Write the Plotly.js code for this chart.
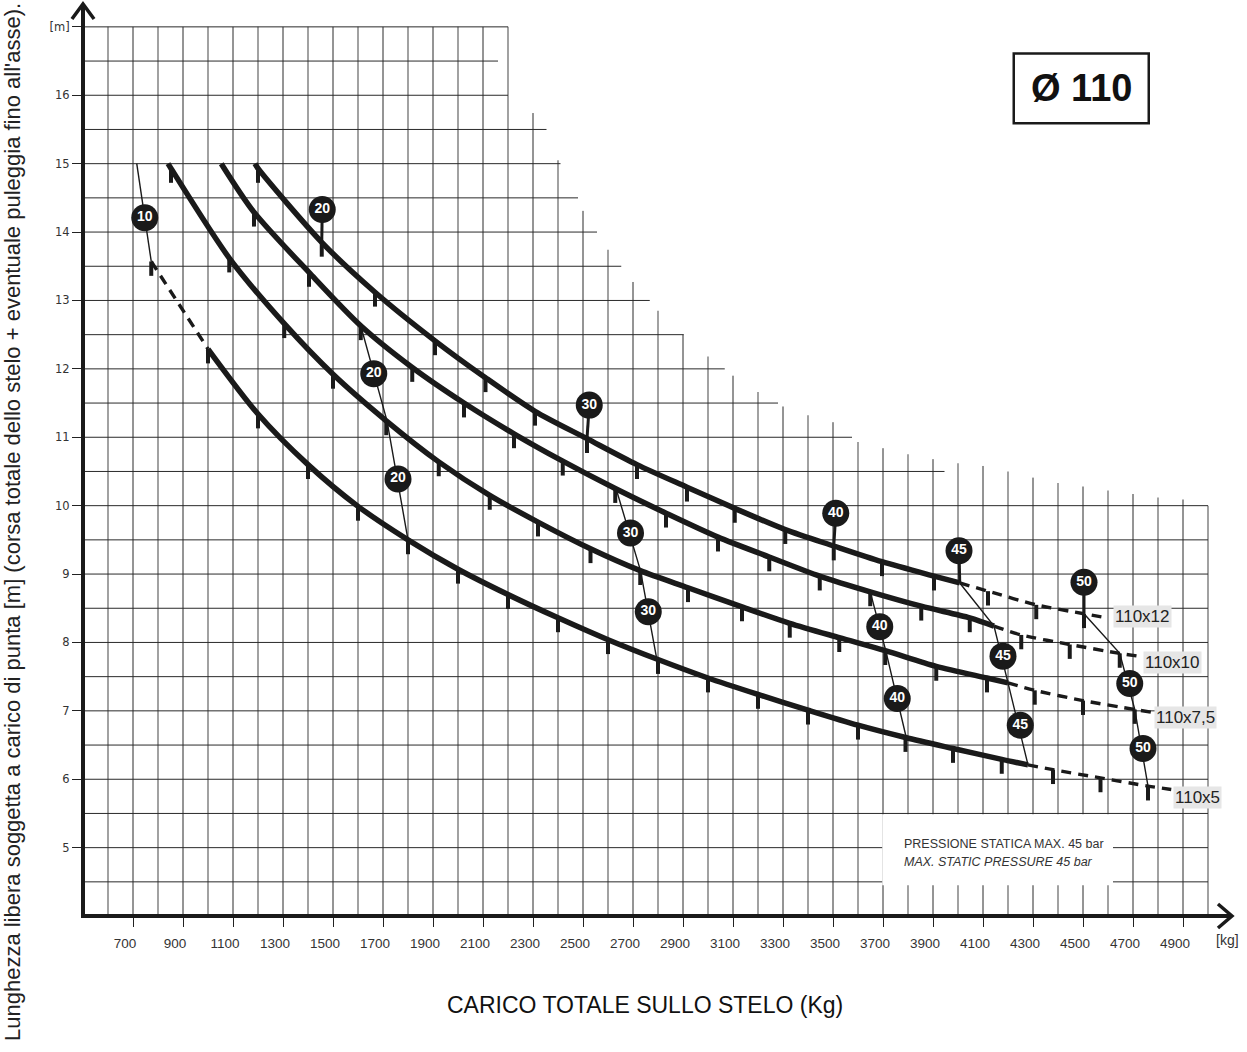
<!DOCTYPE html>
<html>
<head>
<meta charset="utf-8">
<script src="https://cdn.plot.ly/plotly-3.0.1.min.js"></script>
<style>html,body{margin:0;padding:0;background:#fff}#chart{width:1247px;height:1052px}</style>
</head>
<body>
<div id="chart"></div>
<script>
// ---------- axis ticks ----------
const xTickVals = [700,900,1100,1300,1500,1700,1900,2100,2300,2500,2700,2900,3100,3300,3500,3700,3900,4100,4300,4500,4700,4900];
const yTickVals = [5,6,7,8,9,10,11,12,13,14,15,16,17];
const yTickText = ['5','6','7','8','9','10','11','12','13','14','15','16','[m]'];

// ---------- staircase grid ----------
const gridX = [600,700,800,900,1000,1100,1200,1300,1400,1500,1600,1700,1800,1900,2000,2100,2200,2300,2400,2500,2600,2700,2800,2900,3000,3100,3200,3300,3400,3500,3600,3700,3800,3900,4000,4100,4200,4300,4400,4500,4600,4700,4800,4900,5000];
const gridXTop = [17,17,17,17,17,17,17,17,17,17,17,17,17,17,17,17,17,15.74,15.05,14.31,13.74,13.27,12.85,12.5,12.18,11.9,11.66,11.45,11.32,11.22,10.93,10.84,10.75,10.68,10.62,10.58,10.5,10.41,10.33,10.28,10.22,10.17,10.12,10.09,10.0];
const gridY = [4.5,5,5.5,6,6.5,7,7.5,8,8.5,9,9.5,10,10.5,11,11.5,12,12.5,13,13.5,14,14.5,15,15.5,16,16.5,17];
const gridYRight = [5000,5000,5000,5000,5000,5000,5000,5000,5000,5000,5000,5000,3946,3576,3280,3067,2903,2767,2653,2556,2480,2410,2354,2200,2160,2200];

// ---------- curve 110x5 ----------
const c5UpX = [773,1000];
const c5UpY = [13.57,12.29];
const c5SolidX = [1000,1200,1400,1600,1800,2000,2200,2400,2600,2800,3000,3200,3400,3600,3790,3980,4175,4280];
const c5SolidY = [12.29,11.34,10.60,9.99,9.50,9.07,8.70,8.36,8.04,7.75,7.48,7.24,7.01,6.79,6.61,6.45,6.29,6.21];
const c5DashX = [4280,4380,4570,4760,4853];
const c5DashY = [6.21,6.14,6.02,5.90,5.85];
const c5TickX = [773,1000,1200,1400,1600,1800,2000,2200,2400,2600,2800,3000,3200,3400,3600,3790,3980,4175,4380,4570,4760];
const c5TickY = [13.57,12.29,11.34,10.60,9.99,9.50,9.07,8.70,8.36,8.04,7.75,7.48,7.24,7.01,6.79,6.61,6.45,6.29,6.14,6.02,5.90];

// ---------- curve 110x7,5 ----------
const c75SolidX = [840,852,1085,1305,1500,1713,1923,2127,2320,2530,2729,2920,3136,3327,3525,3709,3913,4116,4200];
const c75SolidY = [15.0,14.93,13.62,12.66,11.92,11.24,10.64,10.15,9.76,9.37,9.05,8.80,8.52,8.28,8.07,7.88,7.65,7.48,7.41];
const c75DashX = [4200,4307,4500,4707,4773];
const c75DashY = [7.41,7.30,7.15,7.02,6.98];
const c75TickX = [852,1085,1305,1500,1713,1923,2127,2320,2530,2729,2920,3136,3327,3525,3709,3913,4116,4307,4500,4707];
const c75TickY = [14.93,13.62,12.66,11.92,11.24,10.64,10.15,9.76,9.37,9.05,8.80,8.52,8.28,8.07,7.88,7.65,7.48,7.30,7.15,7.02];

// ---------- curve 110x10 ----------
const c10SolidX = [1053,1184,1404,1611,1817,2024,2224,2419,2629,2832,3040,3245,3447,3649,3853,4047,4144];
const c10SolidY = [15.0,14.29,13.41,12.63,12.02,11.50,11.05,10.65,10.25,9.89,9.54,9.25,8.97,8.74,8.53,8.36,8.24];
const c10DashX = [4144,4253,4447,4647,4720];
const c10DashY = [8.24,8.11,7.97,7.84,7.80];
const c10TickX = [1184,1404,1611,1817,2024,2224,2419,2629,2832,3040,3245,3447,3649,3853,4047,4253,4447,4647];
const c10TickY = [14.29,13.41,12.63,12.02,11.50,11.05,10.65,10.25,9.89,9.54,9.25,8.97,8.74,8.53,8.36,8.11,7.97,7.84];

// ---------- curve 110x12 ----------
const c12SolidX = [1188,1200,1455,1668,1908,2110,2308,2516,2716,2916,3107,3309,3503,3696,3904,4007];
const c12SolidY = [15.0,14.93,13.85,13.12,12.41,11.87,11.38,10.98,10.60,10.27,9.96,9.65,9.41,9.18,8.97,8.87];
const c12DashX = [4007,4120,4313,4504,4580];
const c12DashY = [8.87,8.75,8.55,8.42,8.37];
const c12TickX = [1200,1455,1668,1908,2110,2308,2516,2716,2916,3107,3309,3503,3696,3904,4120,4313,4504];
const c12TickY = [14.93,13.85,13.12,12.41,11.87,11.38,10.98,10.60,10.27,9.96,9.65,9.41,9.18,8.97,8.75,8.55,8.42];

// ---------- pressure (bar) connector lines ----------
const p10X = [715,773];            const p10Y = [15.0,13.57];
const p20X = [1611,1716,1800];     const p20Y = [12.63,11.24,9.50];
const p30X = [2633,2730,2795];     const p30Y = [10.24,9.05,7.76];
const p40X = [3649,3711,3793];     const p40Y = [8.74,7.88,6.61];
const p45X = [4007,4144,4200,4280];const p45Y = [8.87,8.24,7.41,6.21];
const p50X = [4504,4647,4707,4760];const p50Y = [8.42,7.84,7.02,5.90];
// stems from top circles down to the 110x12 curve
const stemTopX = [1457,2525,3511,4004,4504];
const stemTopY = [14.33,11.47,9.89,9.34,8.88];
const stemBotX = [1455,2516,3503,4007,4504];
const stemBotY = [13.85,10.98,9.41,8.87,8.42];

// ---------- pressure circles ----------
const barLabels = ['10','20','20','20','30','30','30','40','40','40','45','45','45','50','50','50'];
const barX = [747,1457,1663,1760,2525,2690,2761,3511,3687,3757,4004,4180,4249,4504,4687,4740];
const barY = [14.21,14.33,11.93,10.39,11.47,9.60,8.45,9.89,8.23,7.18,9.34,7.80,6.79,8.88,7.40,6.45];

const seriesNames = ['110x12','110x10','110x7,5','110x5'];

// ---------- build traces ----------
const INK = '#1a1a1a';
const traces = [];
function segs(xa, ya) { const X=[],Y=[]; for (let i=0;i<xa.length;i++){X.push(xa[i][0],xa[i][1],null);Y.push(ya[i][0],ya[i][1],null);} return {X,Y}; }

// vertical grid lines (alternating tone as printed)
const vDark=[[],[]], vLight=[[],[]];
gridX.forEach((gx,i)=>{ const t = (Math.round(gx/100)%2===1)? vDark : vLight; t[0].push([gx,gx]); t[1].push([4.03,gridXTop[i]]); });
[[vDark,'#2a2a2a',1],[vLight,'#7a7a7a',1.4]].forEach(([g,c,w])=>{ const s=segs(g[0],g[1]); traces.push({x:s.X,y:s.Y,mode:'lines',line:{color:c,width:w},hoverinfo:'skip',showlegend:false}); });
// horizontal grid lines
{ const xa=[],ya=[]; gridY.forEach((gy,i)=>{xa.push([508,gridYRight[i]]);ya.push([gy,gy]);}); const s=segs(xa,ya);
  traces.push({x:s.X,y:s.Y,mode:'lines',line:{color:'#2a2a2a',width:1},hoverinfo:'skip',showlegend:false}); }

// connectors
[[p10X,p10Y],[p20X,p20Y],[p30X,p30Y],[p40X,p40Y],[p45X,p45Y],[p50X,p50Y]].forEach(([x,y])=>traces.push({x,y,mode:'lines',line:{color:INK,width:1.4},hoverinfo:'skip',showlegend:false}));
{ const xa=[],ya=[]; stemTopX.forEach((v,i)=>{xa.push([v,stemBotX[i]]);ya.push([stemTopY[i],stemBotY[i]]);}); const s=segs(xa,ya);
  traces.push({x:s.X,y:s.Y,mode:'lines',line:{color:INK,width:3},hoverinfo:'skip',showlegend:false}); }

// curves
const solid = {color:INK,width:5.5,shape:'spline',smoothing:0.8};
const dashed = {color:INK,width:3.4,dash:'10px,7px',shape:'spline',smoothing:0.8};
const curves = [
  [seriesNames[0],c12SolidX,c12SolidY,c12DashX,c12DashY,c12TickX,c12TickY],
  [seriesNames[1],c10SolidX,c10SolidY,c10DashX,c10DashY,c10TickX,c10TickY],
  [seriesNames[2],c75SolidX,c75SolidY,c75DashX,c75DashY,c75TickX,c75TickY],
  [seriesNames[3],c5SolidX,c5SolidY,c5DashX,c5DashY,c5TickX,c5TickY]
];
traces.push({x:c5UpX,y:c5UpY,mode:'lines',line:dashed,hoverinfo:'skip',showlegend:false});
curves.forEach(([n,sx,sy,dx,dy,tx,ty])=>{
  traces.push({name:n,x:sx,y:sy,mode:'lines',line:solid,showlegend:false});
  traces.push({name:n,x:dx,y:dy,mode:'lines',line:dashed,showlegend:false});
  traces.push({x:tx,y:ty,mode:'markers',marker:{size:1,color:'rgba(0,0,0,0)'},hoverinfo:'skip',showlegend:false,
    error_y:{type:'constant',value:0,valueminus:0.21,symmetric:false,thickness:4,width:0,color:INK}});
});

// circles
traces.push({x:barX,y:barY,mode:'markers+text',text:barLabels,textposition:'middle center',
  marker:{size:27,color:INK,line:{width:0}},textfont:{family:'Liberation Sans, Arial, sans-serif',size:14,color:'#ffffff',weight:'bold'},
  hoverinfo:'skip',showlegend:false,cliponaxis:false});

// ---------- layout ----------
const sans = 'Liberation Sans, Arial, sans-serif';
const layout = {
  width:1247, height:1052,
  margin:{l:85,r:17,t:6,b:138,pad:0},
  paper_bgcolor:'#ffffff', plot_bgcolor:'#ffffff',
  showlegend:false,
  xaxis:{range:[508,5088],showgrid:false,zeroline:false,showline:true,linewidth:4,linecolor:INK,
    tickmode:'array',tickvals:xTickVals,ticks:'outside',ticklen:9,tickwidth:1,tickcolor:'#222',
    tickfont:{family:sans,size:13.5,color:'#333'},ticklabelshift:-8,ticklabelstandoff:5},
  yaxis:{range:[4.03,17.305],showgrid:false,zeroline:false,showline:true,linewidth:4,linecolor:INK,
    tickmode:'array',tickvals:yTickVals,ticktext:yTickText,ticks:'outside',ticklen:9,tickwidth:1,tickcolor:'#222',
    tickfont:{family:'DejaVu Sans, sans-serif',size:11.5,color:'#333'}},
  shapes:[
    {type:'path',xref:'paper',yref:'paper',path:'M -0.0114,0.9857 L -0.00175,1.0022 L 0.0079,0.9857',line:{color:INK,width:3.5}},
    {type:'path',xref:'paper',yref:'paper',path:'M 0.9895,0.0110 L 1.0017,-0.0022 L 0.9895,-0.0154',line:{color:INK,width:3.5}},
    {type:'rect',xref:'x',yref:'y',x0:3697,x1:4620,y0:4.45,y1:5.49,fillcolor:'#ffffff',line:{width:0},layer:'above'},
    {type:'rect',xref:'x',yref:'y',x0:4223,x1:4763,y0:15.59,y1:16.61,fillcolor:'#ffffff',line:{color:INK,width:2.5},layer:'above'}
  ],
  annotations:[
    {xref:'paper',yref:'paper',x:-0.0635,y:0.432,text:"Lunghezza libera soggetta a carico di punta [m] (corsa totale dello stelo + eventuale puleggia fino all'asse).",
      textangle:-90,showarrow:false,xanchor:'center',yanchor:'middle',font:{family:sans,size:22,color:'#222'}},
    {xref:'paper',yref:'paper',x:0.489,y:-0.1,text:'CARICO TOTALE SULLO STELO (Kg)',showarrow:false,xanchor:'center',yanchor:'middle',
      font:{family:sans,size:23,color:'#111'}},
    {xref:'paper',yref:'paper',x:0.998,y:-0.0285,text:'[kg]',showarrow:false,xanchor:'center',yanchor:'middle',font:{family:sans,size:14,color:'#333'}},
    {xref:'x',yref:'y',x:4493,y:16.1,text:'<b>Ø 110</b>',showarrow:false,xanchor:'center',yanchor:'middle',font:{family:sans,size:38,color:'#111'}},
    {xref:'x',yref:'y',x:3775,y:5.06,text:'PRESSIONE STATICA MAX. 45 bar',showarrow:false,xanchor:'left',yanchor:'middle',font:{family:sans,size:12.5,color:'#333'}},
    {xref:'x',yref:'y',x:3775,y:4.79,text:'<i>MAX. STATIC PRESSURE 45 bar</i>',showarrow:false,xanchor:'left',yanchor:'middle',font:{family:sans,size:12.5,color:'#333'}},
    {xref:'x',yref:'y',x:4619,y:8.38,text:seriesNames[0],showarrow:false,xanchor:'left',yanchor:'middle',bgcolor:'#e6e6e6',borderpad:1,font:{family:sans,size:17,color:'#222'}},
    {xref:'x',yref:'y',x:4739,y:7.71,text:seriesNames[1],showarrow:false,xanchor:'left',yanchor:'middle',bgcolor:'#e6e6e6',borderpad:1,font:{family:sans,size:17,color:'#222'}},
    {xref:'x',yref:'y',x:4783,y:6.90,text:seriesNames[2],showarrow:false,xanchor:'left',yanchor:'middle',bgcolor:'#e6e6e6',borderpad:1,font:{family:sans,size:17,color:'#222'}},
    {xref:'x',yref:'y',x:4859,y:5.74,text:seriesNames[3],showarrow:false,xanchor:'left',yanchor:'middle',bgcolor:'#e6e6e6',borderpad:1,font:{family:sans,size:17,color:'#222'}}
  ]
};
Plotly.newPlot('chart', traces, layout, {displayModeBar:false, staticPlot:true});
</script>
</body>
</html>
